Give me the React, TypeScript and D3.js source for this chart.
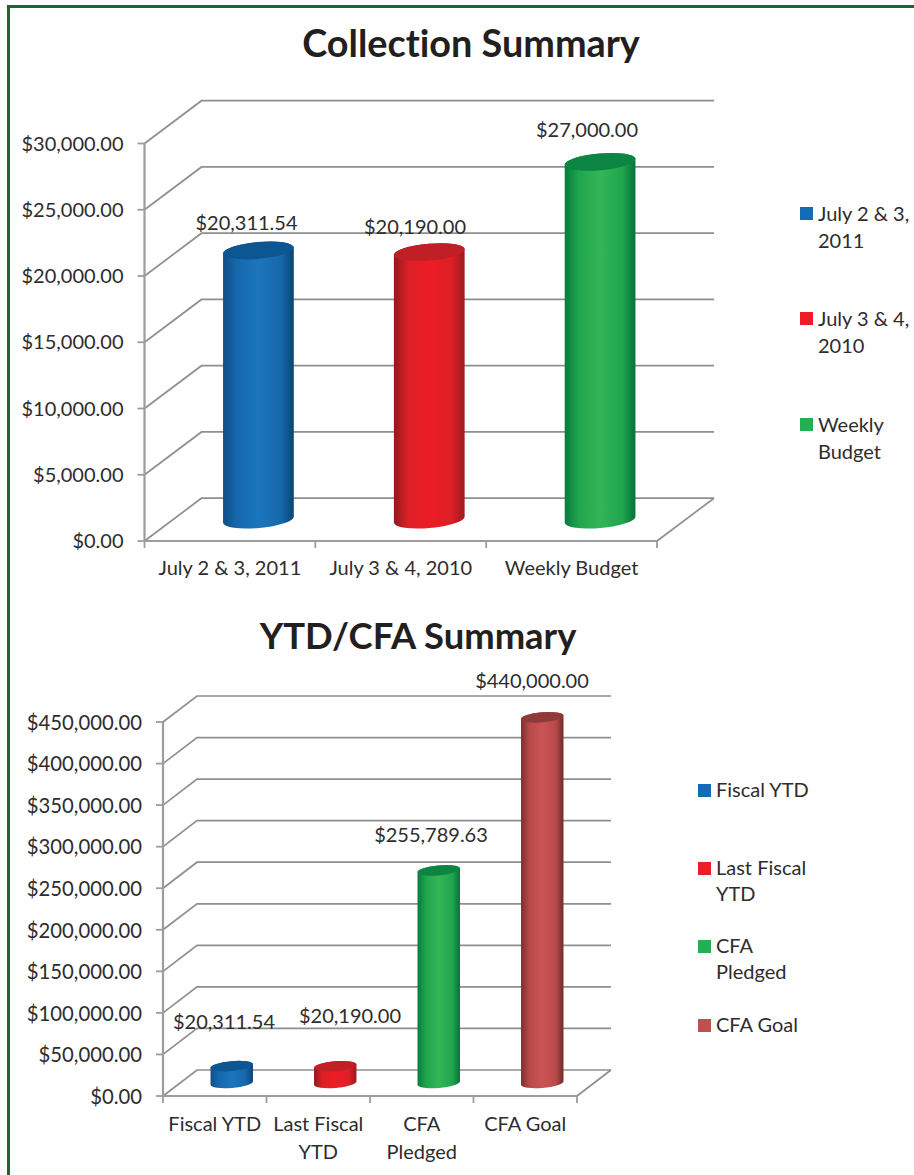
import React from "react";
import * as d3 from "d3";

const FONT = "Lato, Carlito, sans-serif";
const INK = "#2e2c2d";

// ---- Data: Collection Summary
const collectionCategories = ["July 2 & 3, 2011", "July 3 & 4, 2010", "Weekly Budget"];
const collectionValues = [20311.54, 20190, 27000];
const collectionAxisLabels = [["July 2 & 3, 2011"], ["July 3 & 4, 2010"], ["Weekly Budget"]];
const collectionLegend = [["July 2 & 3,", "2011"], ["July 3 & 4,", "2010"], ["Weekly", "Budget"]];
const collectionMax = 30000;
const collectionTickCount = 6;

// ---- Data: YTD/CFA Summary
const ytdCategories = ["Fiscal YTD", "Last Fiscal YTD", "CFA Pledged", "CFA Goal"];
const ytdValues = [20311.54, 20190, 255789.63, 440000];
const ytdAxisLabels = [["Fiscal YTD"], ["Last Fiscal", "YTD"], ["CFA", "Pledged"], ["CFA Goal"]];
const ytdLegend = [["Fiscal YTD"], ["Last Fiscal", "YTD"], ["CFA", "Pledged"], ["CFA Goal"]];
const ytdMax = 450000;
const ytdTickCount = 9;

// ---- Styles
const PALETTES = [
  { id: "blue", edgeL: "#0e4f88", mid: "#1668ac", hi: "#1c76bc", edgeR: "#0b4474", top: "#0c5792", key: "#116cb5" },
  { id: "red", edgeL: "#8f1a1d", mid: "#dc1f26", hi: "#ee1c25", edgeR: "#9a1b1e", top: "#bf1f25", key: "#ee1c25" },
  { id: "green", edgeL: "#0a7a3e", mid: "#1ea64e", hi: "#35b557", edgeR: "#08703a", top: "#0d8542", key: "#22b14f" },
  { id: "goal", edgeL: "#7c2f2f", mid: "#b94a4a", hi: "#cb5353", edgeR: "#6f2a2a", top: "#8e3a3a", key: "#c0504d" },
];

const money = d3.format("$,.2f");
const fmt = (v: number) => money(v);

type Layout = {
  key: string;
  title: string;
  titleX: number;
  titleY: number;
  titleSize: number;
  x0: number;
  x1: number;
  yBottom: number;
  yTop: number;
  dx: number;
  dy: number;
  rx: number;
  ry: number;
  tickSize: number;
  tickNudge: number;
  catBaseline: number;
  catLine: number;
  labelX: number[];
  labelY: number[];
  legendX: number;
  legendY: number[];
  legendLine: number;
  legendNudge: number;
};

function Chart({
  layout: L,
  categories,
  values,
  axisLabels,
  legend,
  max,
  tickCount,
}: {
  layout: Layout;
  categories: string[];
  values: number[];
  axisLabels: string[][];
  legend: string[][];
  max: number;
  tickCount: number;
}) {
  const y = d3.scaleLinear().domain([0, max]).range([L.yBottom, L.yTop]);
  const x = d3.scaleBand<string>().domain(categories).range([L.x0, L.x1]);
  const ticks = y.ticks(tickCount);
  const tilt = -5;
  const rad = (tilt * Math.PI) / 180;
  const ex = L.rx * Math.cos(rad);
  const ey = L.rx * Math.sin(rad);
  const grid = "#8f8f8f";
  const axis = "#9c9c9c";
  const poly = d3.line();

  return (
    <g fontFamily={FONT} fill={INK} style={{ fontVariantLigatures: "none" }}>
      <text x={L.titleX} y={L.titleY} fontSize={L.titleSize} fontWeight={700} textAnchor="middle" fill="#231f20">
        {L.title}
      </text>

      {/* walls: grid lines */}
      {ticks.map((t) => (
        <path
          key={t}
          d={poly([
            [L.x0, y(t)],
            [L.x0 + L.dx, y(t) + L.dy],
            [L.x1 + L.dx, y(t) + L.dy],
          ]) as string}
          fill="none"
          stroke={grid}
          strokeWidth={1.7}
        />
      ))}
      {/* floor */}
      <path
        d={poly([
          [L.x1, y(0)],
          [L.x1 + L.dx, y(0) + L.dy],
        ]) as string}
        fill="none"
        stroke={grid}
        strokeWidth={1.7}
      />
      {/* axes */}
      <path
        d={poly([
          [L.x0, y(max)],
          [L.x0, y(0)],
          [L.x1, y(0)],
        ]) as string}
        fill="none"
        stroke={axis}
        strokeWidth={2.2}
      />
      {ticks.map((t) => (
        <line key={t} x1={L.x0 - 7} x2={L.x0} y1={y(t)} y2={y(t)} stroke={axis} strokeWidth={1.8} />
      ))}
      {[...categories.map((c) => x(c) as number), L.x1].map((px) => (
        <line key={px} x1={px} x2={px} y1={y(0)} y2={y(0) + 7} stroke={axis} strokeWidth={1.8} />
      ))}
      {ticks.map((t) => (
        <text key={t} x={L.x0 - 21} y={y(t) + L.tickNudge} dy="0.36em" fontSize={L.tickSize} textAnchor="end">
          {fmt(t)}
        </text>
      ))}

      {/* cylinders */}
      {categories.map((c, i) => {
        const p = PALETTES[i];
        const cx = (x(c) as number) + x.bandwidth() / 2 + L.dx / 2;
        const base = y(0) + L.dy / 2;
        const top = base - (y(0) - y(values[i]));
        const side = [
          `M${cx - ex},${top - ey}`,
          `L${cx - ex},${base - ey}`,
          `A${L.rx},${L.ry} ${tilt} 0 0 ${cx + ex},${base + ey}`,
          `L${cx + ex},${top + ey}`,
          `A${L.rx},${L.ry} ${tilt} 0 0 ${cx - ex},${top - ey}`,
          "Z",
        ].join(" ");
        return (
          <g key={c}>
            <path d={side} fill={`url(#cyl-${p.id})`} />
            <ellipse
              cx={cx}
              cy={top}
              rx={L.rx}
              ry={L.ry}
              fill={p.top}
              transform={`rotate(${tilt} ${cx} ${top})`}
            />
          </g>
        );
      })}

      {/* data labels */}
      {values.map((v, i) => (
        <text key={i} x={L.labelX[i]} y={L.labelY[i]} dy="0.36em" fontSize={20} textAnchor="middle">
          {fmt(v)}
        </text>
      ))}

      {/* category labels */}
      {categories.map((c, i) => (
        <text
          key={c}
          x={(x(c) as number) + x.bandwidth() / 2}
          y={L.catBaseline}
          fontSize={20}
          textAnchor="middle"
        >
          {axisLabels[i].map((line, j) => (
            <tspan key={j} x={(x(c) as number) + x.bandwidth() / 2} dy={j === 0 ? 0 : L.catLine}>
              {line}
            </tspan>
          ))}
        </text>
      ))}

      {/* legend */}
      {legend.map((lines, i) => (
        <g key={i}>
          <rect x={L.legendX} y={L.legendY[i]} width={13} height={13} fill={PALETTES[i].key} />
          <text x={L.legendX + 18} y={L.legendY[i] + 13.5 + L.legendNudge} fontSize={20}>
            {lines.map((line, j) => (
              <tspan key={j} x={L.legendX + 18} dy={j === 0 ? 0 : L.legendLine}>
                {line}
              </tspan>
            ))}
          </text>
        </g>
      ))}
    </g>
  );
}

const topLayout: Layout = {
  key: "collection",
  title: "Collection Summary",
  titleX: 471,
  titleY: 57,
  titleSize: 37.8,
  x0: 144.5,
  x1: 657,
  yBottom: 541,
  yTop: 143.5,
  dx: 57,
  dy: -42.8,
  rx: 35.5,
  ry: 8.4,
  tickSize: 20,
  tickNudge: 0,
  catBaseline: 575,
  catLine: 27,
  labelX: [246.5, 415, 587],
  labelY: [223, 227, 130],
  legendX: 800,
  legendY: [207, 312, 418],
  legendLine: 27,
  legendNudge: 0,
};

const bottomLayout: Layout = {
  key: "ytd",
  title: "YTD/CFA Summary",
  titleX: 418,
  titleY: 649,
  titleSize: 36.4,
  x0: 163,
  x1: 577,
  yBottom: 1096,
  yTop: 722,
  dx: 34,
  dy: -26,
  rx: 21.3,
  ry: 5,
  tickSize: 20.3,
  tickNudge: 0.5,
  catBaseline: 1131,
  catLine: 28,
  labelX: [224, 350, 431, 532],
  labelY: [1022, 1016, 835, 681],
  legendX: 698,
  legendY: [784, 862, 940, 1019],
  legendLine: 26.5,
  legendNudge: -1,
};

export default function App() {
  return (
    <svg
      width={914}
      height={1175}
      viewBox="0 0 914 1175"
      style={{ position: "absolute", left: 0, top: 0, display: "block", background: "#ffffff" }}
    >
      <defs>
        {PALETTES.map((p) => (
          <linearGradient key={p.id} id={`cyl-${p.id}`} x1="0" x2="1" y1="0" y2="0">
            <stop offset="0" stopColor={p.edgeL} />
            <stop offset="0.2" stopColor={p.mid} />
            <stop offset="0.5" stopColor={p.hi} />
            <stop offset="0.82" stopColor={p.mid} />
            <stop offset="1" stopColor={p.edgeR} />
          </linearGradient>
        ))}
      </defs>
      <path d="M8.5,1175 L8.5,6.5 L914,6.5" fill="none" stroke="#1c6436" strokeWidth={3} />
      <Chart
        layout={topLayout}
        categories={collectionCategories}
        values={collectionValues}
        axisLabels={collectionAxisLabels}
        legend={collectionLegend}
        max={collectionMax}
        tickCount={collectionTickCount}
      />
      <Chart
        layout={bottomLayout}
        categories={ytdCategories}
        values={ytdValues}
        axisLabels={ytdAxisLabels}
        legend={ytdLegend}
        max={ytdMax}
        tickCount={ytdTickCount}
      />
    </svg>
  );
}
